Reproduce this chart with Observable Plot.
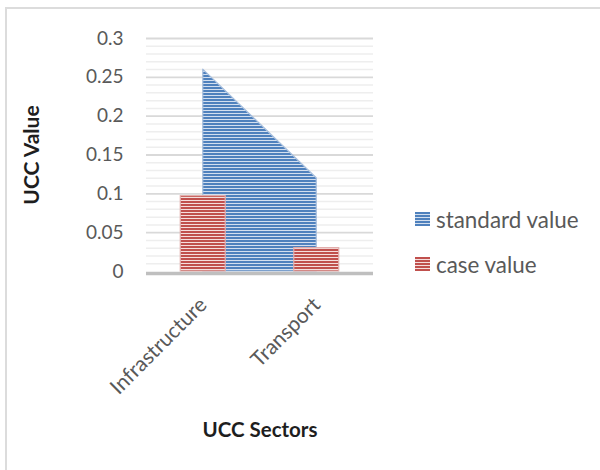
<!DOCTYPE html>
<html>
<head>
<meta charset="utf-8">
<script src="https://cdn.jsdelivr.net/npm/d3@7"></script>
<script src="https://cdn.jsdelivr.net/npm/@observablehq/plot@0.6"></script>
<style>
  html, body { margin: 0; padding: 0; background: #fff; }
  #wrap { position: relative; width: 600px; height: 470px; overflow: hidden; font-family: Lato, "Open Sans", sans-serif; }
  #border { position: absolute; left: 5px; top: 7px; width: 800px; height: 800px; border-left: 2px solid #dcdcdc; border-top: 2px solid #dcdcdc; }
  #chart { position: absolute; left: 0; top: 0; }
  .legend { position: absolute; left: 415px; top: 0; font-size: 22.4px; color: #595959; }
  .item { position: absolute; left: 0; white-space: nowrap; height: 24px; }
  .sw { position: absolute; left: 0; width: 15px; height: 14px; }
  .lab { position: absolute; left: 21px; top: -5px; line-height: 26px; }
</style>
</head>
<body>
<div id="wrap">
  <div id="border"></div>
  <div id="chart"></div>
  <div class="legend" id="legend"></div>
</div>
<script>
// ---- data ----
const sectors = ["Infrastructure", "Transport"];
const standardValue = [0.26, 0.12];
const caseValue = [0.097, 0.03];
const yTicks = [0, 0.05, 0.1, 0.15, 0.2, 0.25, 0.3];
const yTickLabels = ["0", "0.05", "0.1", "0.15", "0.2", "0.25", "0.3"];
const minorGrid = [0.01,0.02,0.03,0.04,0.06,0.07,0.08,0.09,0.11,0.12,0.13,0.14,0.16,0.17,0.18,0.19,0.21,0.22,0.23,0.24,0.26,0.27,0.28,0.29];
const seriesNames = ["standard value", "case value"];
const seriesColors = ["#4f81bd", "#c0504d"];
const seriesLight = ["#d3dfef", "#f5dedd"];
const xTitle = "UCC Sectors";
const yTitle = "UCC Value";

const rows = sectors.map((s, i) => ({i, sector: s, standard: standardValue[i], caseV: caseValue[i]}));
const barHalf = 0.198;

const chart = Plot.plot({
  width: 600,
  height: 470,
  marginLeft: 146,
  marginRight: 227,
  marginTop: 38,
  marginBottom: 199,
  style: {fontFamily: "Lato, 'Open Sans', sans-serif", fontSize: "19px", color: "#595959", background: "transparent", overflow: "visible"},
  x: {type: "linear", domain: [-0.5, 1.5], axis: null},
  y: {domain: [0, 0.3], axis: null},
  marks: [
    Plot.ruleY(minorGrid, {stroke: "#eeeeee", strokeWidth: 1.5}),
    Plot.ruleY(yTicks.slice(1), {stroke: "#d9d9d9", strokeWidth: 1.8}),
    Plot.areaY(rows, {x: "i", y: "standard", fill: "url(#patBlue)", stroke: "#a9c0de", strokeWidth: 1.2}),
    Plot.rectY(rows, {x1: d => d.i - barHalf, x2: d => d.i + barHalf, y: "caseV", fill: "url(#patRed)", stroke: "#e2aeac", strokeWidth: 1.2}),
    Plot.ruleY([0], {stroke: "#bfbfbf", strokeWidth: 3.5, dy: 2}),
    Plot.axisY({ticks: yTicks, tickFormat: (d, k) => yTickLabels[k], tickSize: 0, tickPadding: 23, label: null, fill: "#595959", fontSize: 19}),
    Plot.axisX({ticks: [0, 1], tickFormat: i => sectors[i], tickRotate: -45, tickSize: 0, tickPadding: 30, label: null, fill: "#595959", fontSize: 21}),
    Plot.text([yTitle], {frameAnchor: "left", textAnchor: "middle", lineAnchor: "middle", rotate: -90, dx: -114, fontWeight: "bold", fontSize: 21, fill: "#1e1e1e"}),
    Plot.text([xTitle], {frameAnchor: "bottom", textAnchor: "middle", dy: 165, fontWeight: "bold", fontSize: 20.5, fill: "#1e1e1e"})
  ]
});

// stripe patterns (Excel "narrow horizontal")
const ns = "http://www.w3.org/2000/svg";
const defs = document.createElementNS(ns, "defs");
[["patBlue", 0], ["patRed", 1]].forEach(([id, k]) => {
  const p = document.createElementNS(ns, "pattern");
  p.setAttribute("id", id);
  p.setAttribute("patternUnits", "userSpaceOnUse");
  p.setAttribute("width", 6);
  p.setAttribute("height", 3);
  const bg = document.createElementNS(ns, "rect");
  bg.setAttribute("width", 6); bg.setAttribute("height", 3); bg.setAttribute("fill", seriesLight[k]);
  const fg = document.createElementNS(ns, "rect");
  fg.setAttribute("width", 6); fg.setAttribute("height", 2); fg.setAttribute("fill", seriesColors[k]);
  p.appendChild(bg); p.appendChild(fg);
  defs.appendChild(p);
});
chart.insertBefore(defs, chart.firstChild);
document.getElementById("chart").appendChild(chart);

// legend
const legend = document.getElementById("legend");
const legendTops = [212, 257];
seriesNames.forEach((name, k) => {
  const it = document.createElement("div");
  it.className = "item";
  it.style.top = legendTops[k] + "px";
  const sw = document.createElement("div");
  sw.className = "sw";
  sw.style.background = `repeating-linear-gradient(to bottom, ${seriesColors[k]} 0 2px, ${seriesLight[k]} 2px 3px)`;
  const lab = document.createElement("div");
  lab.className = "lab";
  lab.textContent = name;
  it.appendChild(sw); it.appendChild(lab);
  legend.appendChild(it);
});
</script>
</body>
</html>
